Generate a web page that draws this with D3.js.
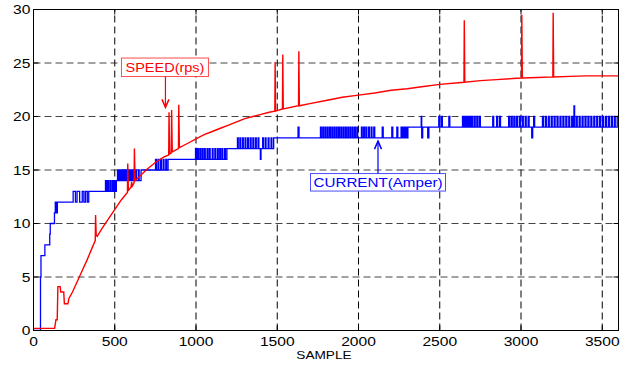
<!DOCTYPE html>
<html>
<head>
<meta charset="utf-8">
<script src="https://cdn.jsdelivr.net/npm/d3@7"></script>
<style>
  body { margin: 0; background: #fff; }
  text { font-family: "Liberation Sans", Arial, sans-serif; }
</style>
</head>
<body>
<div id="chart"></div>
<script>
// tick values
const xTicks = [0, 500, 1000, 1500, 2000, 2500, 3000, 3500];
const yTicks = [0, 5, 10, 15, 20, 25, 30];

// SPEED (rps): [sample, value]
const speed = [
  [0, 0.2], [130, 0.2], [138, 1.0], [146, 1.0], [150, 4.1], [164, 4.1], [168, 3.6], [186, 3.6],
  [190, 2.5], [212, 2.5], [218, 3.0], [240, 3.6], [270, 4.6], [300, 5.6], [330, 6.6], [360, 7.7],
  [380, 8.4], [382, 10.8], [386, 8.9], [392, 8.8], [420, 9.5], [460, 10.4], [500, 11.3], [540, 12.2],
  [578, 12.9], [580, 15.6], [584, 13.1], [600, 13.4], [604, 13.9], [608, 13.5], [619, 13.8], [621, 17.0],
  [625, 14.0], [660, 14.5], [700, 15.1], [750, 15.7], [800, 16.2], [832, 16.4], [834, 20.4], [838, 16.5],
  [848, 16.6], [850, 20.6], [854, 16.7], [892, 17.0], [894, 21.1], [898, 17.1], [950, 17.5], [1000, 17.9],
  [1050, 18.3], [1100, 18.6], [1150, 18.9], [1200, 19.2], [1250, 19.5], [1300, 19.8], [1350, 20.0],
  [1400, 20.2], [1450, 20.4], [1485, 20.5], [1487, 25.1], [1490, 20.5], [1532, 20.7], [1534, 25.8],
  [1537, 20.7], [1631, 21.0], [1633, 26.1], [1636, 21.0], [1700, 21.2], [1800, 21.5], [1900, 21.8],
  [2000, 22.0], [2100, 22.2], [2200, 22.45], [2300, 22.6], [2400, 22.8], [2500, 23.0], [2649, 23.2],
  [2651, 29.0], [2654, 23.2], [2750, 23.35], [2850, 23.45], [2950, 23.55], [3003, 23.6], [3005, 29.5],
  [3008, 23.6], [3100, 23.65], [3196, 23.7], [3198, 29.7], [3201, 23.7], [3300, 23.75], [3400, 23.8],
  [3500, 23.8], [3600, 23.8]
];

// CURRENT (Amper), stepped: [sample where level starts, level]
const current = [
  [0, 0], [43, 5], [46, 7], [70, 8], [100, 9], [103, 10], [129, 11], [134, 12], [137, 11], [140, 12],
  [144, 11], [147, 12],
  [244, 13], [258, 12], [268, 13], [284, 12], [300, 13], [310, 12], [320, 13], [331, 12], [340, 13],
  [443, 14], [448, 13], [456, 14], [461, 13], [470, 14], [475, 13], [484, 14], [489, 13], [497, 14],
  [502, 13], [510, 14], [517, 15], [521, 14], [527, 15], [531, 14], [537, 15], [541, 14], [547, 15],
  [551, 14], [557, 15], [561, 14], [567, 15], [571, 14], [577, 15], [582, 14], [588, 15], [592, 14],
  [600, 15], [604, 14], [612, 15], [618, 14], [628, 15], [633, 14], [645, 15], [650, 14], [662, 15],
  [751, 16], [756, 15], [766, 16], [771, 15], [782, 16], [787, 15], [798, 16], [803, 15], [814, 16],
  [819, 15], [828, 16],
  [997, 17], [1002, 16], [1010, 17], [1015, 16], [1024, 17], [1029, 16], [1038, 17], [1043, 16],
  [1052, 17], [1057, 16], [1068, 17], [1073, 16], [1082, 17], [1087, 16], [1100, 17], [1105, 16],
  [1116, 17], [1121, 16], [1132, 17], [1137, 16], [1146, 17], [1151, 16], [1160, 17], [1165, 16],
  [1176, 17], [1181, 16], [1190, 17],
  [1255, 18], [1260, 17], [1270, 18], [1275, 17], [1286, 18], [1291, 17], [1302, 18], [1307, 17],
  [1318, 18], [1323, 17], [1334, 18], [1339, 17], [1350, 18], [1355, 17], [1366, 18], [1371, 17],
  [1382, 18], [1387, 17], [1396, 16], [1400, 17], [1410, 18], [1415, 17], [1426, 18], [1431, 17],
  [1444, 18], [1449, 17], [1462, 18], [1467, 17], [1478, 18],
  [1628, 19], [1634, 18],
  [1766, 19], [1771, 18], [1780, 19], [1785, 18], [1794, 19], [1799, 18], [1808, 19], [1813, 18],
  [1822, 19], [1827, 18], [1836, 19], [1841, 18], [1850, 19], [1855, 18], [1864, 19], [1869, 18],
  [1878, 19], [1883, 18], [1892, 19], [1897, 18], [1906, 19], [1911, 18], [1920, 19], [1925, 18],
  [1934, 19], [1939, 18], [1948, 19], [1953, 18], [1962, 19], [1967, 18], [1976, 19], [1981, 18],
  [1990, 19], [1995, 18],
  [2018, 19], [2023, 18], [2032, 19], [2037, 18], [2046, 19], [2051, 18], [2062, 19], [2067, 18],
  [2078, 19], [2083, 18], [2094, 19], [2100, 18],
  [2146, 19], [2152, 18], [2205, 19], [2211, 18], [2236, 19], [2242, 18],
  [2262, 19], [2268, 18], [2276, 19], [2282, 18], [2290, 19], [2296, 18], [2304, 19],
  [2386, 20], [2389, 18], [2395, 19], [2426, 18], [2433, 19],
  [2494, 20], [2500, 19], [2510, 20], [2516, 19], [2556, 20], [2562, 19],
  [2640, 20], [2646, 19], [2654, 20], [2660, 19], [2668, 20], [2674, 19], [2682, 20], [2688, 19],
  [2696, 20], [2702, 19], [2712, 20], [2718, 19], [2728, 20], [2734, 19], [2744, 20], [2750, 19],
  [2826, 20], [2832, 19], [2850, 20], [2856, 19], [2868, 20], [2874, 19],
  [2924, 20], [2930, 19], [2940, 20], [2946, 19], [2956, 20], [2962, 19], [2972, 20], [2978, 19],
  [2990, 20], [2996, 19], [3008, 20], [3014, 19], [3026, 20], [3032, 19], [3044, 20], [3050, 19],
  [3066, 18], [3072, 19], [3078, 20], [3084, 19],
  [3132, 20], [3138, 19], [3150, 20], [3156, 19], [3168, 20], [3174, 19], [3186, 20], [3192, 19],
  [3204, 20], [3210, 19], [3222, 20], [3228, 19], [3240, 20], [3246, 19], [3258, 20], [3264, 19],
  [3276, 20], [3282, 19], [3294, 20], [3300, 19], [3312, 20], [3318, 19], [3326, 21], [3330, 19],
  [3340, 20], [3346, 19], [3358, 20], [3364, 19], [3376, 20], [3382, 19], [3394, 20], [3400, 19],
  [3412, 20], [3418, 19], [3430, 20], [3436, 19], [3448, 20], [3454, 19], [3466, 20], [3472, 19],
  [3484, 20], [3490, 19], [3502, 20], [3508, 19], [3520, 20], [3526, 19], [3538, 20], [3544, 19],
  [3556, 20], [3562, 19], [3574, 20], [3580, 19], [3592, 20], [3600, 20]
];

// annotation labels: text, box centre (data), arrow tip (data)
const noteText = ["SPEED(rps)", "CURRENT(Amper)"];
const noteColor = ["#ff0000", "#0000ff"];
const noteAt = [[809, 24.6], [2120, 13.85]];
const noteTip = [[812, 20.85], [2120, 17.7]];

const width = 629, height = 365;

const svg = d3.select("#chart")
    .append("svg")
    .attr("width", width)
    .attr("height", height);

const x = d3.scaleLinear().domain([0, 3600]).range([33.5, 618.5]);
const y = d3.scaleLinear().domain([0, 30]).range([330.5, 9.5]);

// stretch text wider, the picture's fonts look horizontally scaled
function stretch(sel, k) {
    sel.each(function () {
        const w = this.getComputedTextLength();
        this.setAttribute("textLength", w * k);
        this.setAttribute("lengthAdjust", "spacingAndGlyphs");
    });
}

// grid
svg.append("g")
    .selectAll("line")
    .data(yTicks.slice(1, -1))
    .join("line")
    .attr("x1", x(0)).attr("x2", x(3600))
    .attr("y1", d => y(d)).attr("y2", d => y(d))
    .attr("stroke", "#444")
    .attr("stroke-dasharray", "7,4");

svg.append("g")
    .selectAll("line")
    .data(xTicks.slice(1))
    .join("line")
    .attr("x1", d => x(d)).attr("x2", d => x(d))
    .attr("y1", y(0)).attr("y2", y(30))
    .attr("stroke", "#000")
    .attr("stroke-dasharray", "7,4");

// clip for lines
svg.append("clipPath").attr("id", "clip")
    .append("rect")
    .attr("x", x(0)).attr("y", y(30))
    .attr("width", x(3600) - x(0)).attr("height", y(0) - y(30));

const plot = svg.append("g").attr("clip-path", "url(#clip)");

// current
plot.append("path")
    .datum(current)
    .attr("fill", "none")
    .attr("stroke", "#0000ff")
    .attr("stroke-width", 1.3)
    .attr("d", d3.line()
        .curve(d3.curveStepAfter)
        .x(d => x(d[0]))
        .y(d => y(d[1])));

// speed
plot.append("path")
    .datum(speed)
    .attr("fill", "none")
    .attr("stroke", "#ff0000")
    .attr("stroke-width", 1.4)
    .attr("d", d3.line()
        .x(d => x(d[0]))
        .y(d => y(d[1])));

// frame
svg.append("rect")
    .attr("x", x(0)).attr("y", y(30))
    .attr("width", x(3600) - x(0)).attr("height", y(0) - y(30))
    .attr("fill", "none")
    .attr("stroke", "#000")
    .attr("stroke-width", 1);

// inward ticks
const tk = 5;
const tickG = svg.append("g").attr("stroke", "#000");
xTicks.forEach(t => {
    tickG.append("line").attr("x1", x(t)).attr("x2", x(t)).attr("y1", y(0)).attr("y2", y(0) - tk);
    tickG.append("line").attr("x1", x(t)).attr("x2", x(t)).attr("y1", y(30)).attr("y2", y(30) + tk);
});
yTicks.forEach(t => {
    tickG.append("line").attr("x1", x(0)).attr("x2", x(0) + tk).attr("y1", y(t)).attr("y2", y(t));
    tickG.append("line").attr("x1", x(3600)).attr("x2", x(3600) - tk).attr("y1", y(t)).attr("y2", y(t));
});

// tick labels
svg.append("g")
    .selectAll("text")
    .data(xTicks)
    .join("text")
    .attr("x", d => x(d))
    .attr("y", 345.5)
    .attr("text-anchor", "middle")
    .attr("font-size", 12)
    .attr("fill", "#000")
    .text(d => d)
    .call(stretch, 1.3);

svg.append("g")
    .selectAll("text")
    .data(yTicks)
    .join("text")
    .attr("x", 30.5)
    .attr("y", d => y(d) + 4.5)
    .attr("text-anchor", "end")
    .attr("font-size", 12)
    .attr("fill", "#000")
    .text(d => d)
    .call(stretch, 1.3);

svg.append("text")
    .attr("x", 324)
    .attr("y", 358.5)
    .attr("text-anchor", "middle")
    .attr("font-size", 10.5)
    .attr("fill", "#000")
    .text("SAMPLE")
    .call(stretch, 1.3);

// annotations
const boxW = [87, 135], boxH = [18.5, 17.5], textW = [79, 129];
noteText.forEach((t, i) => {
    const cx = x(noteAt[i][0]), cy = y(noteAt[i][1]);
    const g = svg.append("g");
    g.append("rect")
        .attr("x", cx - boxW[i] / 2).attr("y", cy - boxH[i] / 2)
        .attr("width", boxW[i]).attr("height", boxH[i])
        .attr("fill", "#fff")
        .attr("stroke", noteColor[i])
        .attr("stroke-opacity", 0.7);
    g.append("text")
        .attr("x", cx).attr("y", cy + 5)
        .attr("text-anchor", "middle")
        .attr("font-size", 13)
        .attr("fill", noteColor[i])
        .attr("textLength", textW[i])
        .attr("lengthAdjust", "spacingAndGlyphs")
        .text(t);
    // arrow
    const tx = x(noteTip[i][0]), ty = y(noteTip[i][1]);
    const sy = ty > cy ? cy + boxH[i] / 2 : cy - boxH[i] / 2;
    const dir = ty > sy ? -1 : 1;
    g.append("line")
        .attr("x1", tx).attr("x2", tx).attr("y1", sy).attr("y2", ty)
        .attr("stroke", noteColor[i]).attr("stroke-width", 1.2);
    g.append("path")
        .attr("d", `M${tx - 3.5},${ty + dir * 8}L${tx},${ty}L${tx + 3.5},${ty + dir * 8}`)
        .attr("fill", "none")
        .attr("stroke", noteColor[i])
        .attr("stroke-width", 1.5);
});
</script>
</body>
</html>
